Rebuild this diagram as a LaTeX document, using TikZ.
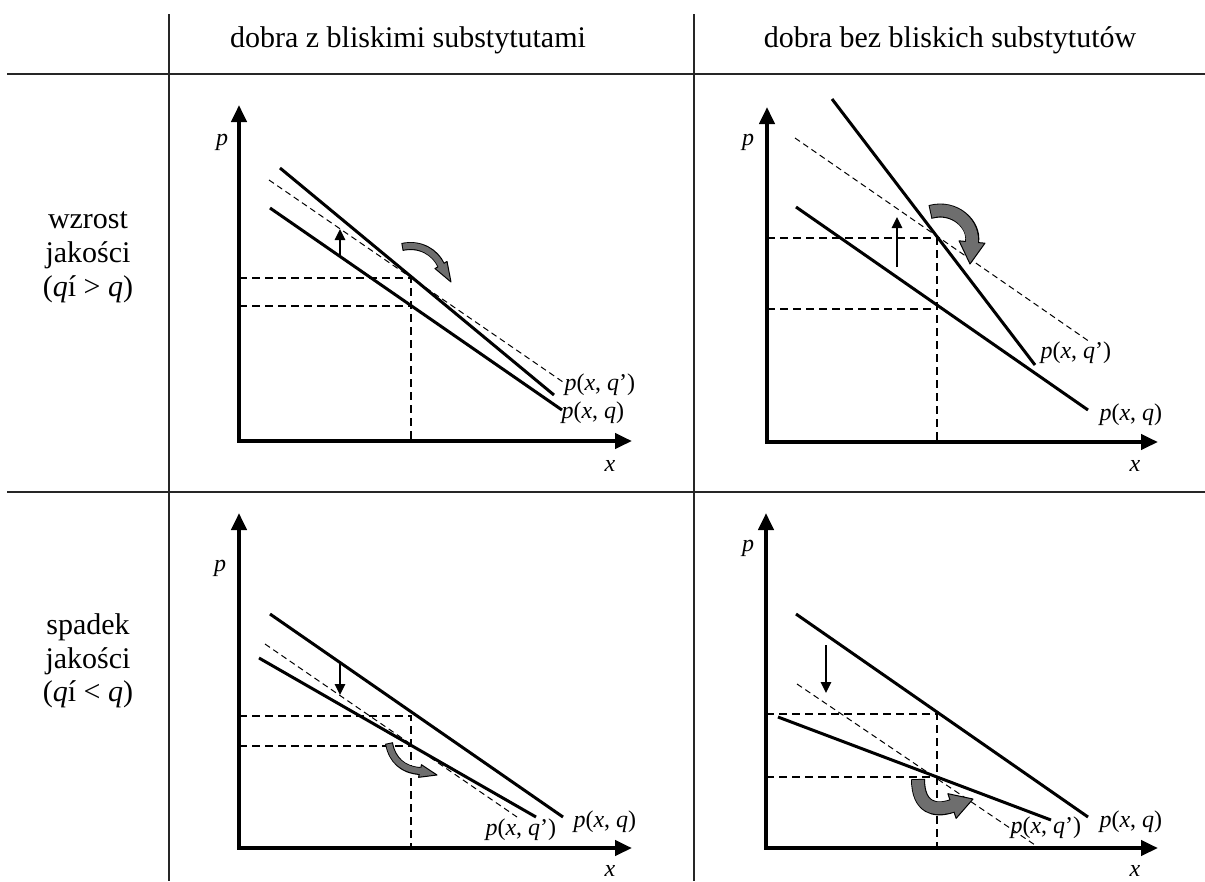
\documentclass[tikz,border=0pt]{standalone}
\usepackage{fontspec}
\setmainfont{Liberation Serif}
\usetikzlibrary{arrows.meta,calc}
\definecolor{qualArrowGray}{HTML}{6E6E6E}
\newcommand{\bentarrow}[7]{%
  \draw[line width=#6+0.8pt] #1 .. controls #2 and #3 .. #4;
  \filldraw[fill=qualArrowGray, line width=0.4pt, line join=round]
    ($#4!#7!90:#5$) -- #5 -- ($#4!#7!-90:#5$) -- cycle;
  \draw[qualArrowGray, line width=#6, shorten <=0.4pt, shorten >=-0.8pt] #1 .. controls #2 and #3 .. #4;
}

\begin{document}
\begin{tikzpicture}[x=0.4pt, y=-0.4pt, every node/.style={font=\fontsize{9.6}{11}\selectfont, inner sep=0pt},
    grid/.style={line width=0.8pt, black!85},
    tabhead/.style={font=\fontsize{12}{13.5}\selectfont, align=center},
    axis/.style={line width=1.6pt, {Triangle[length=6.8pt,width=6pt]}-{Triangle[length=6.8pt,width=6pt]}},
    demand/.style={line width=1.2pt},
    shifted/.style={line width=0.4pt, dash pattern=on 2.4pt off 1.6pt},
    guide/.style={line width=0.6pt, dash pattern=on 3.2pt off 2pt},
    move/.style={line width=0.6pt, -{Triangle[length=4.4pt,width=4.2pt]}}]
\useasboundingbox (0,0) rectangle (1205,881);
% table
\draw[grid] (7,74) -- (1205,74);
\draw[grid] (7,492) -- (1205,492);
\draw[grid] (169,14) -- (169,881);
\draw[grid] (694,14) -- (694,881);
\node[tabhead] (colNear) at (408,40) {dobra z bliskimi substytutami};
\node[tabhead] (colFar) at (950,40) {dobra bez bliskich substytutów};
\node[tabhead] (rowUp) at (88,257) {wzrost\\jakości\\(\textit{q}í > \textit{q})};
\node[tabhead] (rowDown) at (88,661) {spadek\\jakości\\(\textit{q}í < \textit{q})};

% wzrost, bliskie substytuty
\draw[axis] (239,105) -- (239,441) -- (632,441);
\node (pA) at (222,142) {\textit{p}};
\node (xA) at (610,466) {\textit{x}};
\draw[guide] (239,278) -- (411,278) -- (411,441);
\draw[guide] (239,306) -- (411,306);
\draw[demand] (270,208) -- (562,410);
\draw[shifted] (269,180) -- (563,382);
\draw[demand] (280,168) -- (554,395);
\draw[move] (340,255) -- (340,229);
\bentarrow{(402,247)}{(420,243)}{(435,252)}{(441,265)}{(451,282)}{2.4pt}{2.8pt}
\node[anchor=west] (qA1) at (564,385) {\textit{p}(\textit{x}, \textit{q}’)};
\node[anchor=west] (qA0) at (561,413) {\textit{p}(\textit{x}, \textit{q})};

% wzrost, bez bliskich substytutow
\draw[axis] (767,107) -- (767,442) -- (1158,442);
\node (pB) at (748,142) {\textit{p}};
\node (xB) at (1135,466) {\textit{x}};
\draw[guide] (767,238) -- (937,238) -- (937,442);
\draw[guide] (767,309) -- (937,309);
\draw[demand] (796,207) -- (1088,410);
\draw[shifted] (795,138) -- (1090,342);
\draw[demand] (832,99) -- (1035,365);
\draw[move] (897,267) -- (897,217);
\bentarrow{(930,212)}{(955,205)}{(975,225)}{(972,242)}{(970,264)}{4.8pt}{5.2pt}
\node[anchor=west] (qB1) at (1040,353) {\textit{p}(\textit{x}, \textit{q}’)};
\node[anchor=west] (qB0) at (1099,415) {\textit{p}(\textit{x}, \textit{q})};

% spadek, bliskie substytuty
\draw[axis] (239,513) -- (239,848) -- (632,848);
\node (pC) at (220,568) {\textit{p}};
\node (xC) at (610,871) {\textit{x}};
\draw[guide] (239,716) -- (411,716) -- (411,848);
\draw[guide] (239,746) -- (411,746);
\draw[demand] (270,614) -- (563,817);
\draw[shifted] (265,644) -- (517,817);
\draw[demand] (259,658) -- (536,817);
\draw[move] (340,664) -- (340,695);
\bentarrow{(389,743)}{(392,760)}{(403,770)}{(420,771)}{(437,775)}{2.4pt}{2.6pt}
\node[anchor=west] (qC1) at (485,830) {\textit{p}(\textit{x}, \textit{q}’)};
\node[anchor=west] (qC0) at (573,822) {\textit{p}(\textit{x}, \textit{q})};

% spadek, bez bliskich substytutow
\draw[axis] (766,513) -- (766,848) -- (1158,848);
\node (pD) at (748,548) {\textit{p}};
\node (xD) at (1135,871) {\textit{x}};
\draw[guide] (766,714) -- (937,714) -- (937,848);
\draw[guide] (766,777) -- (937,777);
\draw[demand] (796,614) -- (1088,817);
\draw[demand] (778,717) -- (1051,820);
\draw[shifted] (797,684) -- (1038,847);
\draw[move] (826,645) -- (826,693);
\bentarrow{(918,779)}{(918,808)}{(935,812)}{(952,806)}{(973,799)}{4.8pt}{5.2pt}
\node[anchor=west] (qD1) at (1010,828) {\textit{p}(\textit{x}, \textit{q}’)};
\node[anchor=west] (qD0) at (1099,822) {\textit{p}(\textit{x}, \textit{q})};
\end{tikzpicture}
\end{document}
